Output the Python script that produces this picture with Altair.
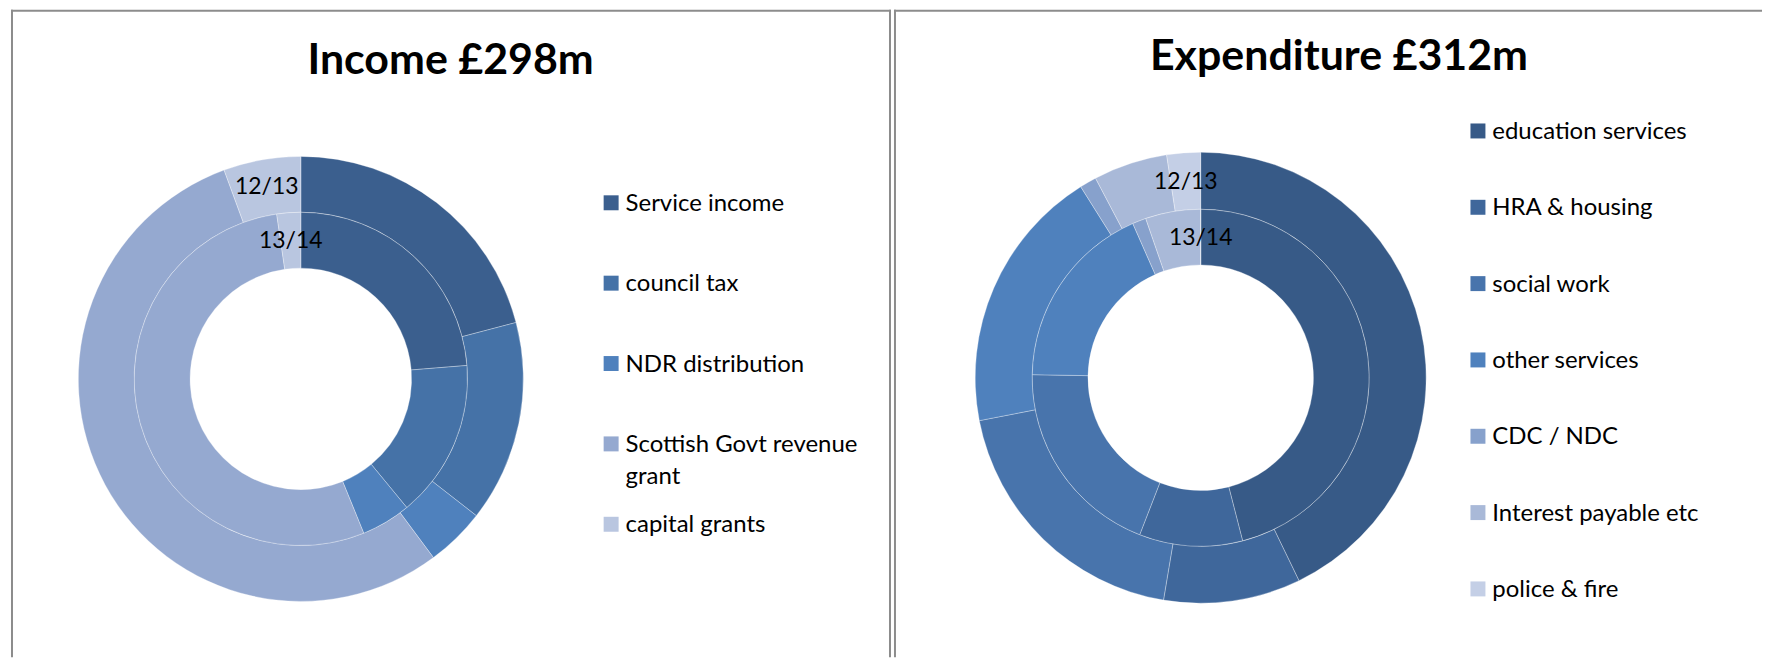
import altair as alt
import pandas as pd

# ---------------- data (values in £m) ----------------
YEARS = ["12/13", "13/14"]          # outer ring, inner ring

INCOME_TITLE = "Income £298m"
INCOME_CATS = ["Service income", "council tax", "NDR distribution",
               "Scottish Govt revenue grant", "capital grants"]
INCOME_LEGEND = ["Service income", "council tax", "NDR distribution",
                 "Scottish Govt revenue\ngrant", "capital grants"]
INCOME_1213 = [62.7, 43.8, 12.9, 163.5, 16.8]
INCOME_1314 = [70.6, 45.6, 14.3, 160.3, 6.9]
INCOME_COLORS = ["#3B5F8E", "#4572A7", "#4F81BD", "#95A9D0", "#B9C6E0"]

EXP_TITLE = "Expenditure £312m"
EXP_CATS = ["education services", "HRA & housing", "social work",
            "other services", "CDC / NDC", "Interest payable etc",
            "police & fire"]
EXP_LEGEND = EXP_CATS
EXP_1213 = [134.8, 30.9, 60.8, 60.2, 3.8, 16.7, 7.6]
EXP_1314 = [143.5, 30.9, 60.5, 56.5, 4.1, 16.5, 0.0]
EXP_COLORS = ["#375A87", "#3F679B", "#4874AC", "#4F81BD", "#87A1CC",
              "#A9B9D8", "#C4CFE6"]

FONT = "Lato"
BORDER = "#8C8C8C"
H = 649


def panel(title, cats, legend_labels, v1213, v1314, colors, g):
    rows = []
    for year, vals in zip(YEARS, [v1213, v1314]):
        for i, (c, v) in enumerate(zip(cats, vals)):
            rows.append({"cat": c, "ord": i, "year": year, "value": v,
                         "ringlab": year if i == len(cats) - 1 else ""})
    df = pd.DataFrame(rows)
    leg = pd.DataFrame({"cat": cats, "label": legend_labels})

    color = alt.Color("cat:N", scale=alt.Scale(domain=cats, range=colors),
                      legend=None)
    cx, cy = g["cx"], g["cy"]
    layers = []
    for year, (r_out, r_in, r_lab) in zip(YEARS, g["rings"]):
        sel = alt.Chart(df).transform_filter(alt.datum.year == year)
        layers.append(
            sel.mark_arc(outerRadius=r_out, innerRadius=r_in, stroke="white",
                         strokeWidth=0.7, strokeOpacity=0.45).encode(
                theta=alt.Theta("value:Q", stack="normalize"),
                order=alt.Order("ord:Q"),
                color=color,
                x=alt.value(cx), y=alt.value(cy))
        )
    for year, (r_out, r_in, r_lab) in zip(YEARS, g["rings"]):
        sel = alt.Chart(df).transform_filter(alt.datum.year == year)
        layers.append(
            sel.mark_text(radius=r_lab, font=FONT, fontSize=23, color="black",
                          align="center", baseline="middle").encode(
                theta=alt.Theta("value:Q", stack="normalize"),
                order=alt.Order("ord:Q"),
                detail="cat:N",
                text="ringlab:N",
                x=alt.value(cx), y=alt.value(cy))
        )

    ysc = alt.Scale(type="point", domain=cats, range=g["leg_y"], padding=0)
    layers.append(
        alt.Chart(leg).mark_square(size=225, opacity=1, filled=True).encode(
            x=alt.value(g["sq_x"]),
            y=alt.Y("cat:N", scale=ysc, axis=None),
            color=color)
    )
    layers.append(
        alt.Chart(leg).mark_text(align="left", baseline="alphabetic", dy=8,
                                 lineBreak="\n", lineHeight=32, font=FONT,
                                 fontSize=24, color="black").encode(
            x=alt.value(g["tx_x"]),
            y=alt.Y("cat:N", scale=ysc, axis=None),
            text="label:N")
    )
    layers.append(
        alt.Chart(alt.Data(values=[{"t": title}])).mark_text(
            font=FONT, fontSize=43, fontWeight="bold", align="center",
            baseline="alphabetic", color="black").encode(
            text="t:N", x=alt.value(g["title_x"]), y=alt.value(g["title_y"]))
    )
    one = alt.Chart(alt.Data(values=[{"k": 1}]))
    layers.append(one.mark_rule(color=BORDER, strokeWidth=2).encode(
        x=alt.value(1), y=alt.value(0), y2=alt.value(H)))
    layers.append(one.mark_rule(color=BORDER, strokeWidth=2).encode(
        x=alt.value(0), x2=alt.value(g["w"]), y=alt.value(1)))
    if g.get("right_border"):
        layers.append(one.mark_rule(color=BORDER, strokeWidth=2).encode(
            x=alt.value(g["w"] - 1), y=alt.value(0), y2=alt.value(H)))
    return alt.layer(*layers).properties(width=g["w"], height=H)


left = panel(INCOME_TITLE, INCOME_CATS, INCOME_LEGEND, INCOME_1213,
             INCOME_1314, INCOME_COLORS,
             dict(w=882, cx=290.5, cy=370,
                  rings=[(223, 167, 195), (167, 111, 139)],
                  leg_y=[193.5, 515.7], sq_x=601.5, tx_x=616,
                  title_x=440.6, title_y=64, right_border=True))
right = panel(EXP_TITLE, EXP_CATS, EXP_LEGEND, EXP_1213, EXP_1314,
              EXP_COLORS,
              dict(w=870, cx=307.4, cy=368.8,
                   rings=[(226, 168.8, 196.5), (168.8, 113, 140.5)],
                   leg_y=[121.5, 580.5], sq_x=585.3, tx_x=599.7,
                   title_x=446, title_y=60))

chart = alt.hconcat(left, right, spacing=1).resolve_scale(
    color="independent", y="independent", theta="independent"
).properties(
    padding={"left": 2, "top": 0, "right": 0, "bottom": 0},
    background="white",
).configure_view(strokeWidth=0)

chart.save("out.html", embed_options={"renderer": "svg", "actions": False})
